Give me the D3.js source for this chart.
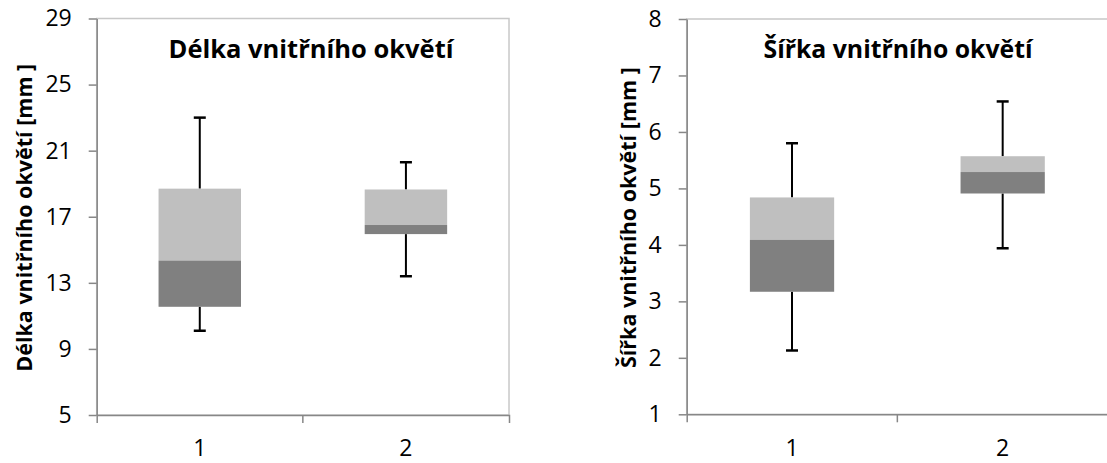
<html>
<head>
<meta charset="utf-8">
<script src="https://d3js.org/d3.v7.min.js"></script>
<style>
    html, body {
        margin: 0;
        padding: 0;
        background: #fff;
    }
    text {
        font-family: "Open Sans", sans-serif;
        fill: #000;
    }
</style>
</head>
<body>
<script>
    // categories (box index)
    var categories = ["1", "2"];

    // Délka vnitřního okvětí [mm]
    var lengthMin = [10.1, 13.4];
    var lengthQ1 = [11.55, 15.95];
    var lengthMedian = [14.35, 16.5];
    var lengthQ3 = [18.7, 18.65];
    var lengthMax = [23.0, 20.3];
    var lengthTicks = [5, 9, 13, 17, 21, 25, 29];

    // Šířka vnitřního okvětí [mm]
    var widthMin = [2.13, 3.94];
    var widthQ1 = [3.17, 4.91];
    var widthMedian = [4.09, 5.29];
    var widthQ3 = [4.84, 5.57];
    var widthMax = [5.80, 6.54];
    var widthTicks = [1, 2, 3, 4, 5, 6, 7, 8];

    var svg = d3.select("body").append("svg")
        .attr("width", 1107)
        .attr("height", 463);

    function drawChart(opt) {
        var g = svg.append("g");

        var x = d3.scaleBand()
            .domain(categories)
            .range([opt.left, opt.right]);

        var y = d3.scaleLinear()
            .domain([opt.ticks[0], opt.ticks[opt.ticks.length - 1]])
            .range([opt.bottom, opt.top]);

        // plot area border
        g.append("rect")
            .attr("x", opt.left)
            .attr("y", opt.top)
            .attr("width", opt.right - opt.left)
            .attr("height", opt.bottom - opt.top)
            .attr("fill", "none")
            .attr("stroke", "#c8c8c8")
            .attr("stroke-width", 1.5);

        var rows = categories.map(function (c, i) {
            return {
                cat: c,
                min: opt.min[i],
                q1: opt.q1[i],
                med: opt.med[i],
                q3: opt.q3[i],
                max: opt.max[i]
            };
        });

        var boxW = x.bandwidth() * 0.4;
        var cx = function (d) { return x(d.cat) + x.bandwidth() / 2; };

        // whiskers
        g.selectAll(".whiskerUp").data(rows).enter().append("line")
            .attr("x1", cx).attr("x2", cx)
            .attr("y1", function (d) { return y(d.q3); })
            .attr("y2", function (d) { return y(d.max); })
            .attr("stroke", "#000").attr("stroke-width", 2);
        g.selectAll(".whiskerDown").data(rows).enter().append("line")
            .attr("x1", cx).attr("x2", cx)
            .attr("y1", function (d) { return y(d.q1); })
            .attr("y2", function (d) { return y(d.min); })
            .attr("stroke", "#000").attr("stroke-width", 2);
        ["max", "min"].forEach(function (k) {
            g.selectAll(".cap" + k).data(rows).enter().append("line")
                .attr("x1", function (d) { return cx(d) - 6; })
                .attr("x2", function (d) { return cx(d) + 6; })
                .attr("y1", function (d) { return y(d[k]); })
                .attr("y2", function (d) { return y(d[k]); })
                .attr("stroke", "#000").attr("stroke-width", 2.5);
        });

        // upper box part (median -> Q3)
        g.selectAll(".boxUp").data(rows).enter().append("rect")
            .attr("x", function (d) { return cx(d) - boxW / 2; })
            .attr("width", boxW)
            .attr("y", function (d) { return y(d.q3); })
            .attr("height", function (d) { return y(d.med) - y(d.q3); })
            .attr("fill", "#bfbfbf");

        // lower box part (Q1 -> median)
        g.selectAll(".boxDown").data(rows).enter().append("rect")
            .attr("x", function (d) { return cx(d) - boxW / 2; })
            .attr("width", boxW)
            .attr("y", function (d) { return y(d.med); })
            .attr("height", function (d) { return y(d.q1) - y(d.med); })
            .attr("fill", "#808080");

        // y axis
        var yAxis = g.append("g")
            .attr("transform", "translate(" + opt.left + ",0)")
            .call(d3.axisLeft(y).tickValues(opt.ticks).tickFormat(d3.format("d"))
                .tickSizeInner(8).tickSizeOuter(0).tickPadding(17));
        yAxis.selectAll("text").style("font-size", "23px");

        // x axis
        var xAxis = g.append("g")
            .attr("transform", "translate(0," + opt.bottom + ")")
            .call(d3.axisBottom(x).tickSizeInner(0).tickSizeOuter(8).tickPadding(25));
        xAxis.selectAll("text").style("font-size", "23px");
        xAxis.append("line")
            .attr("x1", x(categories[1])).attr("x2", x(categories[1]))
            .attr("y1", 0).attr("y2", 8);

        g.selectAll(".domain, .tick line").attr("stroke", "#878787").attr("stroke-width", 1.5);
        xAxis.selectAll(":scope > line").attr("stroke", "#878787").attr("stroke-width", 1.5);

        // title
        g.append("text")
            .attr("x", opt.titleX)
            .attr("y", 58)
            .attr("text-anchor", "middle")
            .style("font-size", opt.titleSize)
            .style("font-weight", "bold")
            .text(opt.title);

        // y label
        g.append("text")
            .attr("transform", "translate(" + opt.labelX + "," + ((opt.top + opt.bottom) / 2 + 1) + ") rotate(-90)")
            .attr("text-anchor", "middle")
            .style("font-size", "21.5px")
            .style("font-weight", "bold")
            .text(opt.label);
    }

    drawChart({
        left: 96.7, right: 509, top: 18.5, bottom: 415,
        ticks: lengthTicks,
        min: lengthMin, q1: lengthQ1, med: lengthMedian, q3: lengthQ3, max: lengthMax,
        title: "Délka vnitřního okvětí", titleX: 311, titleSize: "25.5px",
        label: "Délka vnitřního okvětí [mm ]", labelX: 32
    });

    drawChart({
        left: 686.7, right: 1108, top: 19, bottom: 414.3,
        ticks: widthTicks,
        min: widthMin, q1: widthQ1, med: widthMedian, q3: widthQ3, max: widthMax,
        title: "Šířka vnitřního okvětí", titleX: 898, titleSize: "24.8px",
        label: "Šířka vnitřního okvětí [mm ]", labelX: 636
    });
</script>
</body>
</html>
